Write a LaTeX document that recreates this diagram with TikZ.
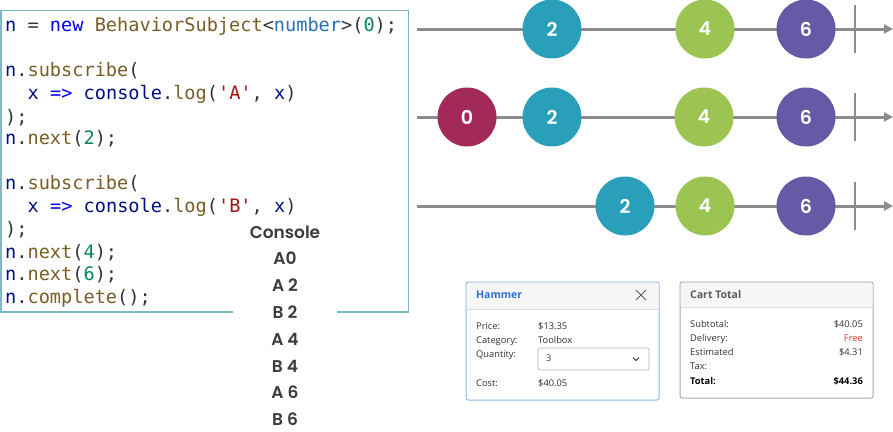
\documentclass[tikz,border=0pt]{standalone}
\usepackage{fontspec}
\setmonofont{DejaVu Sans Mono}
\newfontfamily\popfont{Poppins}[BoldFont={Poppins SemiBold}]
\newfontfamily\uifont{Open Sans}
\usetikzlibrary{arrows.meta}
\definecolor{cvar}{HTML}{001080}
\definecolor{ckw}{HTML}{0000FF}
\definecolor{cfn}{HTML}{795E26}
\definecolor{cty}{HTML}{2A6FB5}
\definecolor{cstr}{HTML}{A31515}
\definecolor{cnum}{HTML}{098658}
\definecolor{cpun}{HTML}{333333}
\definecolor{boxline}{HTML}{7FB8C6}
\definecolor{consol}{HTML}{3C3C3C}
\definecolor{axis}{HTML}{8C8C8C}
\definecolor{mteal}{HTML}{2A9FBA}
\definecolor{mgreen}{HTML}{9CC453}
\definecolor{mpurple}{HTML}{665AA6}
\definecolor{mred}{HTML}{A32A58}
\definecolor{hamline}{HTML}{8AB4E6}
\definecolor{hamblue}{HTML}{2D6FD6}
\definecolor{cartline}{HTML}{A8A8A8}
\definecolor{uitext}{HTML}{333333}
\definecolor{hdrfill}{HTML}{F6F6F6}
\definecolor{sepline}{HTML}{E0E0E0}
\definecolor{freered}{HTML}{D9342B}
\newcommand\cV[1]{\textcolor{cvar}{#1}}
\newcommand\cK[1]{\textcolor{ckw}{#1}}
\newcommand\cF[1]{\textcolor{cfn}{#1}}
\newcommand\cT[1]{\textcolor{cty}{#1}}
\newcommand\cS[1]{\textcolor{cstr}{#1}}
\newcommand\cN[1]{\textcolor{cnum}{#1}}
\tikzset{
  codeline/.style={anchor=base west, inner sep=0pt, text=cpun,
    font=\ttfamily\fontsize{18.6}{22}\selectfont},
  conline/.style={anchor=base, inner sep=0pt, text=consol,
    font=\popfont\bfseries\fontsize{17}{20}\selectfont},
  marble/.style={circle, minimum size=59pt, inner sep=0pt, text=white,
    font=\popfont\bfseries\fontsize{19}{19}\selectfont},
  timeline/.style={draw=axis, line width=3pt, -{Triangle[length=9pt,width=9pt]}},
  endtick/.style={draw=axis, line width=2pt},
  uilabel/.style={anchor=west, inner sep=0pt, text=uitext, text height=7pt, text depth=2pt,
    font=\uifont\fontsize{9.3}{11}\selectfont},
  uivalue/.style={anchor=east, inner sep=0pt, text=uitext, text height=7pt, text depth=2pt,
    font=\uifont\fontsize{9.3}{11}\selectfont},
  uibold/.style={font=\uifont\bfseries\fontsize{9.3}{11}\selectfont, text=black},
  uititle/.style={anchor=west, inner sep=0pt, text height=8pt, text depth=2pt,
    font=\uifont\bfseries\fontsize{10.5}{13}\selectfont},
}
\begin{document}
\begin{tikzpicture}[x=1pt,y=-1pt]
\useasboundingbox[fill=white] (0,0) rectangle (893,431);

% code box
\draw[boxline, line width=1.5pt] (233,312) -- (0.75,312) -- (0.75,10.5) -- (408.5,10.5) -- (408.5,312) -- (337,312);

\node[codeline] (l1) at (5,31) {\cV{n} = \cK{new} \cF{BehaviorSubject}<\cT{number}>(\cN{0});};
\node[codeline] (l2) at (5,76) {\cV{n}.\cF{subscribe}(};
\node[codeline] (l3) at (27.5,99) {\cV{x} \cK{=>} \cV{console}.\cF{log}(\cS{'A'}, \cV{x})};
\node[codeline] (l4) at (5,123) {);};
\node[codeline] (l5) at (5,144) {\cV{n}.\cF{next}(\cN{2});};
\node[codeline] (l6) at (5,189) {\cV{n}.\cF{subscribe}(};
\node[codeline] (l7) at (27.5,212) {\cV{x} \cK{=>} \cV{console}.\cF{log}(\cS{'B'}, \cV{x})};
\node[codeline] (l8) at (5,235) {);};
\node[codeline] (l9) at (5,258) {\cV{n}.\cF{next}(\cN{4});};
\node[codeline] (l10) at (5,280) {\cV{n}.\cF{next}(\cN{6});};
\node[codeline] (l11) at (5,303) {\cV{n}.\cF{complete}();};

% console output
\node[conline] (c0) at (285,238) {Console};
\node[conline] (c1) at (285,264) {A0};
\node[conline] (c2) at (285,291) {A 2};
\node[conline] (c3) at (285,318) {B 2};
\node[conline] (c4) at (285,345) {A 4};
\node[conline] (c5) at (285,372) {B 4};
\node[conline] (c6) at (285,398) {A 6};
\node[conline] (c7) at (285,425) {B 6};

% marble diagrams
\foreach \r/\y in {1/29,2/117,3/206}{
  \coordinate (s\r) at (417,\y);
  \coordinate (e\r) at (893,\y);
  \coordinate (ta\r) at (855,\y-24);
  \coordinate (tb\r) at (855,\y+24);
  \draw[timeline] (s\r) -- (e\r);
  \draw[endtick] (ta\r) -- (tb\r);
}
\node[marble, fill=mteal]   (a2) at (552,29) {2};
\node[marble, fill=mgreen]  (a4) at (705,29) {4};
\node[marble, fill=mpurple] (a6) at (806,29) {6};
\node[marble, fill=mred]    (b0) at (467,117) {0};
\node[marble, fill=mteal]   (b2) at (552,117) {2};
\node[marble, fill=mgreen]  (b4) at (704,117) {4};
\node[marble, fill=mpurple] (b6) at (806,117) {6};
\node[marble, fill=mteal]   (d2) at (625,206) {2};
\node[marble, fill=mgreen]  (d4) at (705,206) {4};
\node[marble, fill=mpurple] (d6) at (806,206) {6};

% Hammer card
\draw[hamline, line width=1pt, rounded corners=2pt, fill=white] (466,282) rectangle (659,400);
\fill[hdrfill, rounded corners=1.5pt] (466.5,282.5) rectangle (658.5,309);
\draw[sepline, line width=0.8pt] (466.5,309) -- (658.5,309);
\node[uititle, text=hamblue] (ht) at (476,295) {Hammer};
\draw[cpun!80, line width=1pt] (636,290) -- (646,300) (646,290) -- (636,300);
\node[uilabel] (hp) at (476,327) {Price:};
\node[uilabel] (hc) at (476,341) {Category:};
\node[uilabel] (hq) at (476,355) {Quantity:};
\node[uilabel] (hk) at (476,384) {Cost:};
\node[uilabel] (vp) at (538,327) {\$13.35};
\node[uilabel] (vc) at (538,341) {Toolbox};
\draw[sepline!80!black, line width=0.7pt, rounded corners=2pt] (538,348) rectangle (649,370);
\node[uilabel] (vq) at (546,359) {3};
\draw[cpun, line width=0.8pt] (633,357.5) -- (636,360.5) -- (639,357.5);
\node[uilabel] (vk) at (538,384) {\$40.05};

% Cart total card
\draw[cartline, line width=1pt, rounded corners=2pt, fill=white] (680,282) rectangle (873,398);
\fill[hdrfill, rounded corners=1.5pt] (680.5,282.5) rectangle (872.5,307);
\draw[sepline, line width=0.8pt] (680.5,307) -- (872.5,307);
\node[uititle, text=black!65] (ct) at (690,295) {Cart Total};
\node[uilabel] (cs) at (690,325) {Subtotal:};
\node[uilabel] (cd) at (690,339) {Delivery:};
\node[uilabel] (ce) at (690,353) {Estimated};
\node[uilabel] (cx) at (690,367) {Tax:};
\node[uilabel, uibold] (cto) at (690,382) {Total:};
\node[uivalue] (vs) at (863,325) {\$40.05};
\node[uivalue, text=freered] (vd) at (863,339) {Free};
\node[uivalue] (ve) at (863,353) {\$4.31};
\node[uivalue, uibold] (vto) at (863,382) {\$44.36};
\end{tikzpicture}
\end{document}
